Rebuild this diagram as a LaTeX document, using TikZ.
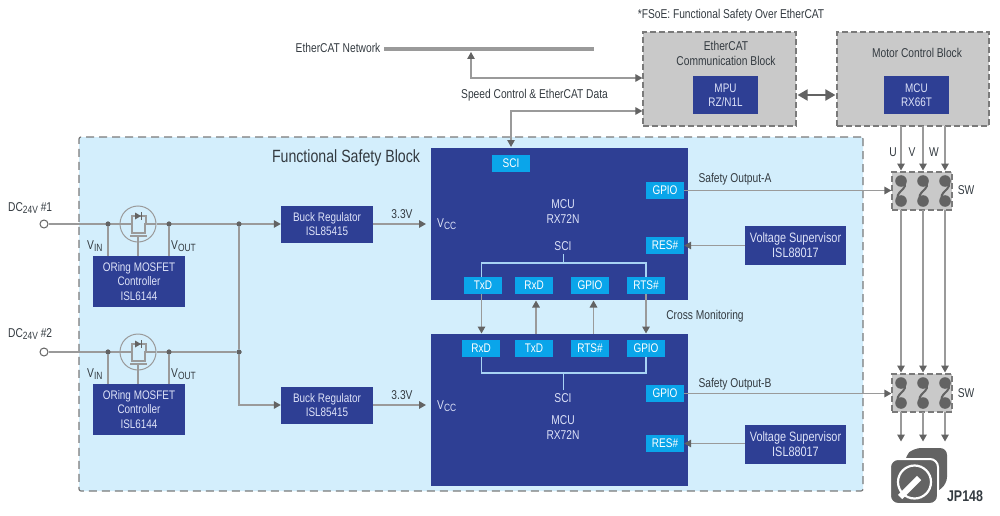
\documentclass[tikz,border=0pt]{standalone}
\usepackage{fontspec}
\setmainfont[FakeStretch=0.8]{Liberation Sans}
\usetikzlibrary{arrows.meta,calc}
\definecolor{navy}{HTML}{2E3F94}
\definecolor{cyanbox}{HTML}{0AA5EA}
\definecolor{paleblue}{HTML}{D3EEFC}
\definecolor{blockgray}{HTML}{C9C9C9}
\definecolor{wiregray}{HTML}{9A9A9A}
\definecolor{tipgray}{HTML}{636363}
\definecolor{dashgray}{HTML}{7A7A7A}
\definecolor{labelink}{HTML}{333A40}
\definecolor{soft}{HTML}{DDE2F8}
\tikzset{
  tip/.tip={Triangle[length=7pt,width=7.5pt,color=tipgray]},
  wire/.style={draw=wiregray,line width=1.5pt},
  flow/.style={wire,-tip},
  txt/.style={inner sep=0pt,text=labelink,font=\fontsize{12.8}{15}\selectfont,align=center},
  navybox/.style={fill=navy,inner sep=0pt,text=soft,font=\fontsize{12.4}{14.2}\selectfont,align=center},
  navytext/.style={inner sep=0pt,text=soft,font=\fontsize{12.8}{15}\selectfont,align=center},
  cyanport/.style={fill=cyanbox,inner sep=0pt,text=white,font=\fontsize{12.5}{14}\selectfont,minimum width=38pt,minimum height=17pt},
  grayblock/.style={fill=blockgray,draw=dashgray,line width=1.2pt,dash pattern=on 6pt off 3pt,inner sep=0pt},
  dot/.style={circle,fill=tipgray,inner sep=0pt,minimum size=5pt},
  soft line/.style={draw=soft!75!cyanbox,line width=1.2pt},
  mosfetsym/.pic={
    \draw[wire,line width=1.2pt] (-18,0) -- (-6,0) -- (-6,9) -- (7,9) -- (7,0) -- (18,0);
    \draw[wire,line width=1.2pt] (-6,0) -- (-6,-8) -- (8,-8) -- (8,0);
    \fill[tipgray] (-3,-11.5) -- (3,-8) -- (-3,-4.5) -- cycle;
    \draw[tipgray,line width=1pt] (3.5,-12) -- (3.5,-4);
    \draw[wire,line width=1.2pt] (-8,12) -- (9,12);
  },
  togglesym/.pic={
    \fill[tipgray] (0,-10) circle (5.8pt) (0,10) circle (5.8pt);
    \draw[tipgray,line width=2pt] (2,-10) .. controls (10,-2) and (-9,1) .. (-2,10);
  }
}
\newcommand{\volt}[1]{V\raisebox{-1.5pt}{\fontsize{10.5}{10.5}\selectfont #1}}
\begin{document}
\begin{tikzpicture}[x=1pt,y=-1pt]
\useasboundingbox (0,0) rectangle (1000,516);

% Large background blocks
\node[fill=paleblue,draw=dashgray,line width=1.2pt,dash pattern=on 8pt off 5pt,rounded corners=2pt,minimum width=784pt,minimum height=354pt,inner sep=0pt] (safety) at (471,314) {};
\node[grayblock,minimum width=153pt,minimum height=94pt] (comm) at (719.5,79) {};
\node[grayblock,minimum width=152pt,minimum height=94pt] (motor) at (913,79) {};

% MCU blocks
\node[fill=navy,minimum width=257pt,minimum height=152pt,inner sep=0pt] (mcuA) at (559.5,224) {};
\node[fill=navy,minimum width=257pt,minimum height=152pt,inner sep=0pt] (mcuB) at (559.5,410) {};

% Top texts and blocks
\node[txt] (fsoe) at (731,15) {*FSoE: Functional Safety Over EtherCAT};
\node[txt] (net) at (338,48) {EtherCAT Network};
\node[fill=wiregray,minimum width=210pt,minimum height=4pt,inner sep=0pt] (bar) at (489,49.5) {};
\node[txt] (speed) at (534.5,95) {Speed Control \& EtherCAT Data};
\node[txt] (commt) at (726,53) {EtherCAT\\Communication Block};
\node[txt] (motort) at (917,53) {Motor Control Block};
\node[navybox,minimum width=65pt,minimum height=38pt] (mpu) at (725.5,95) {MPU\\RZ/N1L};
\node[navybox,minimum width=65pt,minimum height=38pt] (mcu66) at (916.5,95) {MCU\\RX66T};
\node[txt,font=\fontsize{17.7}{20}\selectfont] (fsb) at (346,158) {Functional Safety Block};

% Input side
\node[circle,draw=tipgray,fill=white,line width=1pt,minimum size=8pt,inner sep=0pt] (in1) at (44,224) {};
\node[circle,draw=tipgray,fill=white,line width=1pt,minimum size=8pt,inner sep=0pt] (in2) at (44,352) {};
\node[txt,anchor=west] (dc1) at (8,208) {DC\raisebox{-2pt}{\fontsize{10.5}{10.5}\selectfont 24V} \#1};
\node[txt,anchor=west] (dc2) at (8,334) {DC\raisebox{-2pt}{\fontsize{10.5}{10.5}\selectfont 24V} \#2};

\node[circle,draw=wiregray,line width=1pt,minimum size=36pt,inner sep=0pt] (m1) at (138,224) {};
\node[circle,draw=wiregray,line width=1pt,minimum size=36pt,inner sep=0pt] (m2) at (138,352) {};
\pic at (138,224) {mosfetsym};
\pic at (138,352) {mosfetsym};

\node[navybox,minimum width=92pt,minimum height=51pt] (c1) at (139,281.5) {ORing MOSFET\\Controller\\ISL6144};
\node[navybox,minimum width=92pt,minimum height=51pt] (c2) at (139,409.5) {ORing MOSFET\\Controller\\ISL6144};
\node[navybox,minimum width=92pt,minimum height=37pt] (b1) at (327,224) {Buck Regulator\\ISL85415};
\node[navybox,minimum width=92pt,minimum height=37pt] (b2) at (327,405) {Buck Regulator\\ISL85415};

\node[dot] (j1) at (108,224) {};
\node[dot] (j2) at (169,224) {};
\node[dot] (j3) at (239,224) {};
\node[dot] (j4) at (108,352) {};
\node[dot] (j5) at (169,352) {};
\node[dot] (j6) at (239,352) {};
\coordinate (j7) at (239,405);

\draw[wire] (in1) -- (m1.west);
\draw[wire] (in2) -- (m2.west);
\draw[flow] (m1.east) -- (b1.west);
\draw[wire] (m2.east) -- (j6);
\draw[wire] (j3) -- (j6);
\draw[flow] (j6) -- (j7) -- (b2.west);
\draw[wire] (j1) -- (j1 |- c1.north);
\draw[wire] (j2) -- (j2 |- c1.north);
\draw[wire] (j4) -- (j4 |- c2.north);
\draw[wire] (j5) -- (j5 |- c2.north);
\draw[wire] (138,236) -- (138,256);
\draw[wire] (138,364) -- (138,384);
\node[dot] at (j1) {};
\node[dot] at (j2) {};
\node[dot] at (j3) {};
\node[dot] at (j4) {};
\node[dot] at (j5) {};
\node[dot] at (j6) {};

\node[txt,anchor=west] (vin1) at (87,246) {\volt{IN}};
\node[txt,anchor=west] (vout1) at (171,246) {\volt{OUT}};
\node[txt,anchor=west] (vin2) at (87,374) {\volt{IN}};
\node[txt,anchor=west] (vout2) at (171,374) {\volt{OUT}};

% 3.3V rail
\node[txt] (t33a) at (402,214) {3.3V};
\node[txt] (t33b) at (402,395) {3.3V};
\node[navytext,anchor=west] (vcca) at (437,224) {\volt{CC}};
\node[navytext,anchor=west] (vccb) at (437,406) {\volt{CC}};
\coordinate (va) at (426,224);
\coordinate (vb) at (426,405);
\draw[flow] (b1.east) -- (va);
\draw[flow] (b2.east) -- (vb);

% Ports
\node[cyanport] (sciA) at (511,163.5) {SCI};
\node[cyanport] (gpioA) at (665,190.5) {GPIO};
\node[cyanport] (resA) at (665,245.5) {RES\#};
\node[cyanport] (txA) at (483,285.5) {TxD};
\node[cyanport] (rxA) at (534,285.5) {RxD};
\node[cyanport] (gpA) at (590,285.5) {GPIO};
\node[cyanport] (rtsA) at (646,285.5) {RTS\#};
\node[cyanport] (rxB) at (481,348.5) {RxD};
\node[cyanport] (txB) at (534,348.5) {TxD};
\node[cyanport] (rtsB) at (590,348.5) {RTS\#};
\node[cyanport] (gpB) at (646,348.5) {GPIO};
\node[cyanport] (gpioB) at (665,393.5) {GPIO};
\node[cyanport] (resB) at (665,443.5) {RES\#};

\node[navytext] (mcuAt) at (563,212) {MCU\\RX72N};
\node[navytext] (sciAt) at (563,246) {SCI};
\node[navytext] (mcuBt) at (563,428) {MCU\\RX72N};
\node[navytext] (sciBt) at (563,398) {SCI};
\coordinate (busA) at (563.5,263);
\coordinate (busB) at (563.5,373);
\draw[soft line] (563.5,254) -- (busA);
\draw[soft line] (481.5,277) -- (481.5,263) -- (646,263) -- (rtsA.north);
\draw[soft line] (563.5,390) -- (busB);
\draw[soft line] (481.5,357) -- (481.5,373) -- (646,373) -- (gpB.south);

% Cross links
\draw[flow] (481.5,294) -- (481.5,333.5);
\draw[flow] (536,333.5) -- (536,300.5);
\draw[flow] (593.5,333.5) -- (593.5,300.5);
\draw[flow] (rtsA.south) -- (646,333.5);
\node[txt] (cross) at (705,316) {Cross Monitoring};

% Voltage supervisors
\node[navybox,font=\fontsize{13.6}{15}\selectfont,minimum width=101pt,minimum height=39pt] (vs1) at (795.5,245.5) {Voltage Supervisor\\ISL88017};
\node[navybox,font=\fontsize{13.6}{15}\selectfont,minimum width=101pt,minimum height=39pt] (vs2) at (795.5,444.5) {Voltage Supervisor\\ISL88017};
\draw[flow] (vs1.west) -- (resA.east);
\draw[flow] (vs2.west |- resB.east) -- (resB.east);

% Switches
\node[grayblock,minimum width=60pt,minimum height=38pt] (sw1) at (922,191) {};
\node[grayblock,minimum width=60pt,minimum height=38pt] (sw2) at (922,393) {};
\pic at (901,191) {togglesym};
\pic at (923,191) {togglesym};
\pic at (945,191) {togglesym};
\pic at (901,393) {togglesym};
\pic at (923,393) {togglesym};
\pic at (945,393) {togglesym};
\node[txt] (swt1) at (966,190) {SW};
\node[txt] (swt2) at (966,393) {SW};
\node[txt] (soa) at (735,179) {Safety Output-A};
\node[txt] (sob) at (735,384) {Safety Output-B};
\draw[flow] (gpioA.east) -- (gpioA.east -| sw1.west);
\draw[flow] (gpioB.east) -- (gpioB.east -| sw2.west);

% U V W
\coordinate (u0) at (901,126);
\coordinate (v0) at (923,126);
\coordinate (w0) at (945,126);
\draw[flow] (u0) -- (901,170.5);
\draw[flow] (v0) -- (923,170.5);
\draw[flow] (w0) -- (945,170.5);
\node[txt] (ut) at (893,152) {U};
\node[txt] (vt) at (912,152) {V};
\node[txt] (wt) at (934,152) {W};
\draw[flow] (901,210) -- (901,372.5);
\draw[flow] (923,210) -- (923,372.5);
\draw[flow] (945,210) -- (945,372.5);
\draw[flow] (901,412) -- (901,441.5);
\draw[flow] (923,412) -- (923,441.5);
\draw[flow] (945,412) -- (945,441.5);

% Network links
\coordinate (tapn) at (471,52);
\coordinate (tapc) at (471,78);
\coordinate (tapd) at (511,111);
\draw[wire,tip-tip,line width=1.1pt] (tapn) -- (tapc) -- (comm.west |- tapc);
\draw[wire,tip-tip,line width=1.1pt] (sciA.north |- 0,147) -- (tapd) -- (comm.west |- tapd);
\draw[draw=tipgray,line width=2pt,{Triangle[length=10pt,width=11pt]}-{Triangle[length=10pt,width=11pt]}] (comm.east) ++(1,16) -- ($(motor.west)+(-1,16)$);

% Motor icon
\fill[tipgray,rounded corners=7pt] (905,456) -- (914,448) -- (947,448) -- (947,484) -- (930,497) -- (905,497) -- cycle;
\fill[tipgray,draw=white,line width=2pt,rounded corners=8pt] (890,459) rectangle (938,504);
\draw[white,line width=2.2pt] (914.5,482) circle (16.5pt);
\draw[white,line width=6pt] (919,478) -- (900,497);
\node[txt,font=\fontsize{15.5}{17}\selectfont\bfseries] (jp) at (965,496) {JP148};
\end{tikzpicture}
\end{document}
